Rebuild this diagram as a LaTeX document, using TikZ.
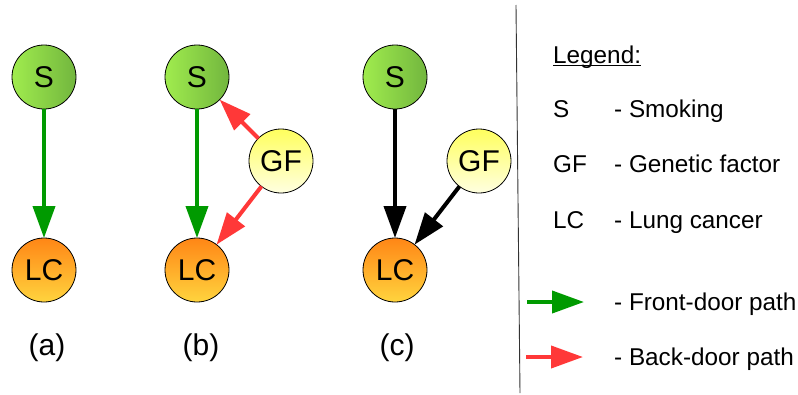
\documentclass[tikz,border=0pt]{standalone}
\usepackage{fontspec}
\setmainfont{Liberation Sans}
\usetikzlibrary{arrows.meta}

\definecolor{sgreenL}{HTML}{A0EC4E}
\definecolor{sgreenR}{HTML}{72B63E}
\definecolor{lctop}{HTML}{FF8616}
\definecolor{lcbot}{HTML}{FFD43E}
\definecolor{gftop}{HTML}{FFFF5E}
\definecolor{gfbot}{HTML}{FFFFE0}
\definecolor{frontgreen}{HTML}{009A00}
\definecolor{backred}{HTML}{FF3838}

\tikzset{
  varnode/.style={circle, draw=black, line width=0.8pt, minimum size=64pt,
    inner sep=0pt, outer sep=0pt, font=\fontsize{30}{35}\selectfont},
  smoke/.style={varnode, left color=sgreenL, right color=sgreenR},
  cancer/.style={varnode, top color=lctop, bottom color=lcbot},
  gene/.style={varnode, top color=gftop, bottom color=gfbot},
  pathline/.style={line width=4pt,
    -{Triangle[length=32pt, width=22pt]}},
  front/.style={pathline, draw=frontgreen, fill=frontgreen},
  back/.style={pathline, draw=backred, fill=backred},
  plain/.style={pathline, draw=black, fill=black},
  caption/.style={font=\fontsize{30}{35}\selectfont},
  legtext/.style={anchor=base west, inner sep=0pt, font=\fontsize{24.3}{29}\selectfont},
}

\begin{document}
\begin{tikzpicture}[x=1pt, y=-1pt]
  \useasboundingbox (0,0) rectangle (798,394);

  % (a) direct effect only
  \node[smoke]  (Sa)  at (44,77)  {S};
  \node[cancer] (LCa) at (44,270) {LC};
  \draw[front] (Sa) -- (LCa);
  \node[caption] (capa) at (47,348) {(a)};

  % (b) genetic factor opens a back-door path
  \node[smoke]  (Sb)  at (197,77)  {S};
  \node[cancer] (LCb) at (197,270) {LC};
  \node[gene]   (GFb) at (281,161) {GF};
  \draw[front] (Sb) -- (LCb);
  \draw[back] (GFb) -- (Sb);
  \draw[back] (GFb) -- (LCb);
  \node[caption] (capb) at (201,348) {(b)};

  % (c) both causes of lung cancer
  \node[smoke]  (Sc)  at (395,77)  {S};
  \node[cancer] (LCc) at (395,270) {LC};
  \node[gene]   (GFc) at (479,161) {GF};
  \draw[plain] (Sc) -- (LCc);
  \draw[plain] (GFc) -- (LCc);
  \node[caption] (capc) at (397,348) {(c)};

  % divider
  \coordinate (divtop) at (516,5);
  \coordinate (divbot) at (520,393);
  \draw[line width=0.9pt, black!80] (divtop) -- (divbot);

  % legend
  \node[legtext] (leg) at (553,63) {Legend:};
  \draw[line width=1pt] ([yshift=-2.5pt]leg.base west) -- ([yshift=-2.5pt]leg.base east);

  \node[legtext] (kS)  at (553,117) {S};
  \node[legtext] (dS)  at (614,117) {- Smoking};
  \node[legtext] (kGF) at (553,172) {GF};
  \node[legtext] (dGF) at (614,172) {- Genetic factor};
  \node[legtext] (kLC) at (553,228) {LC};
  \node[legtext] (dLC) at (614,228) {- Lung cancer};

  \coordinate (fa) at (527,302);
  \coordinate (fb) at (584,302);
  \draw[front] (fa) -- (fb);
  \node[legtext] (dF) at (614,310) {- Front-door path};

  \coordinate (ba) at (526,357);
  \coordinate (bb) at (583,357);
  \draw[back] (ba) -- (bb);
  \node[legtext] (dB) at (614,365) {- Back-door path};
\end{tikzpicture}
\end{document}
